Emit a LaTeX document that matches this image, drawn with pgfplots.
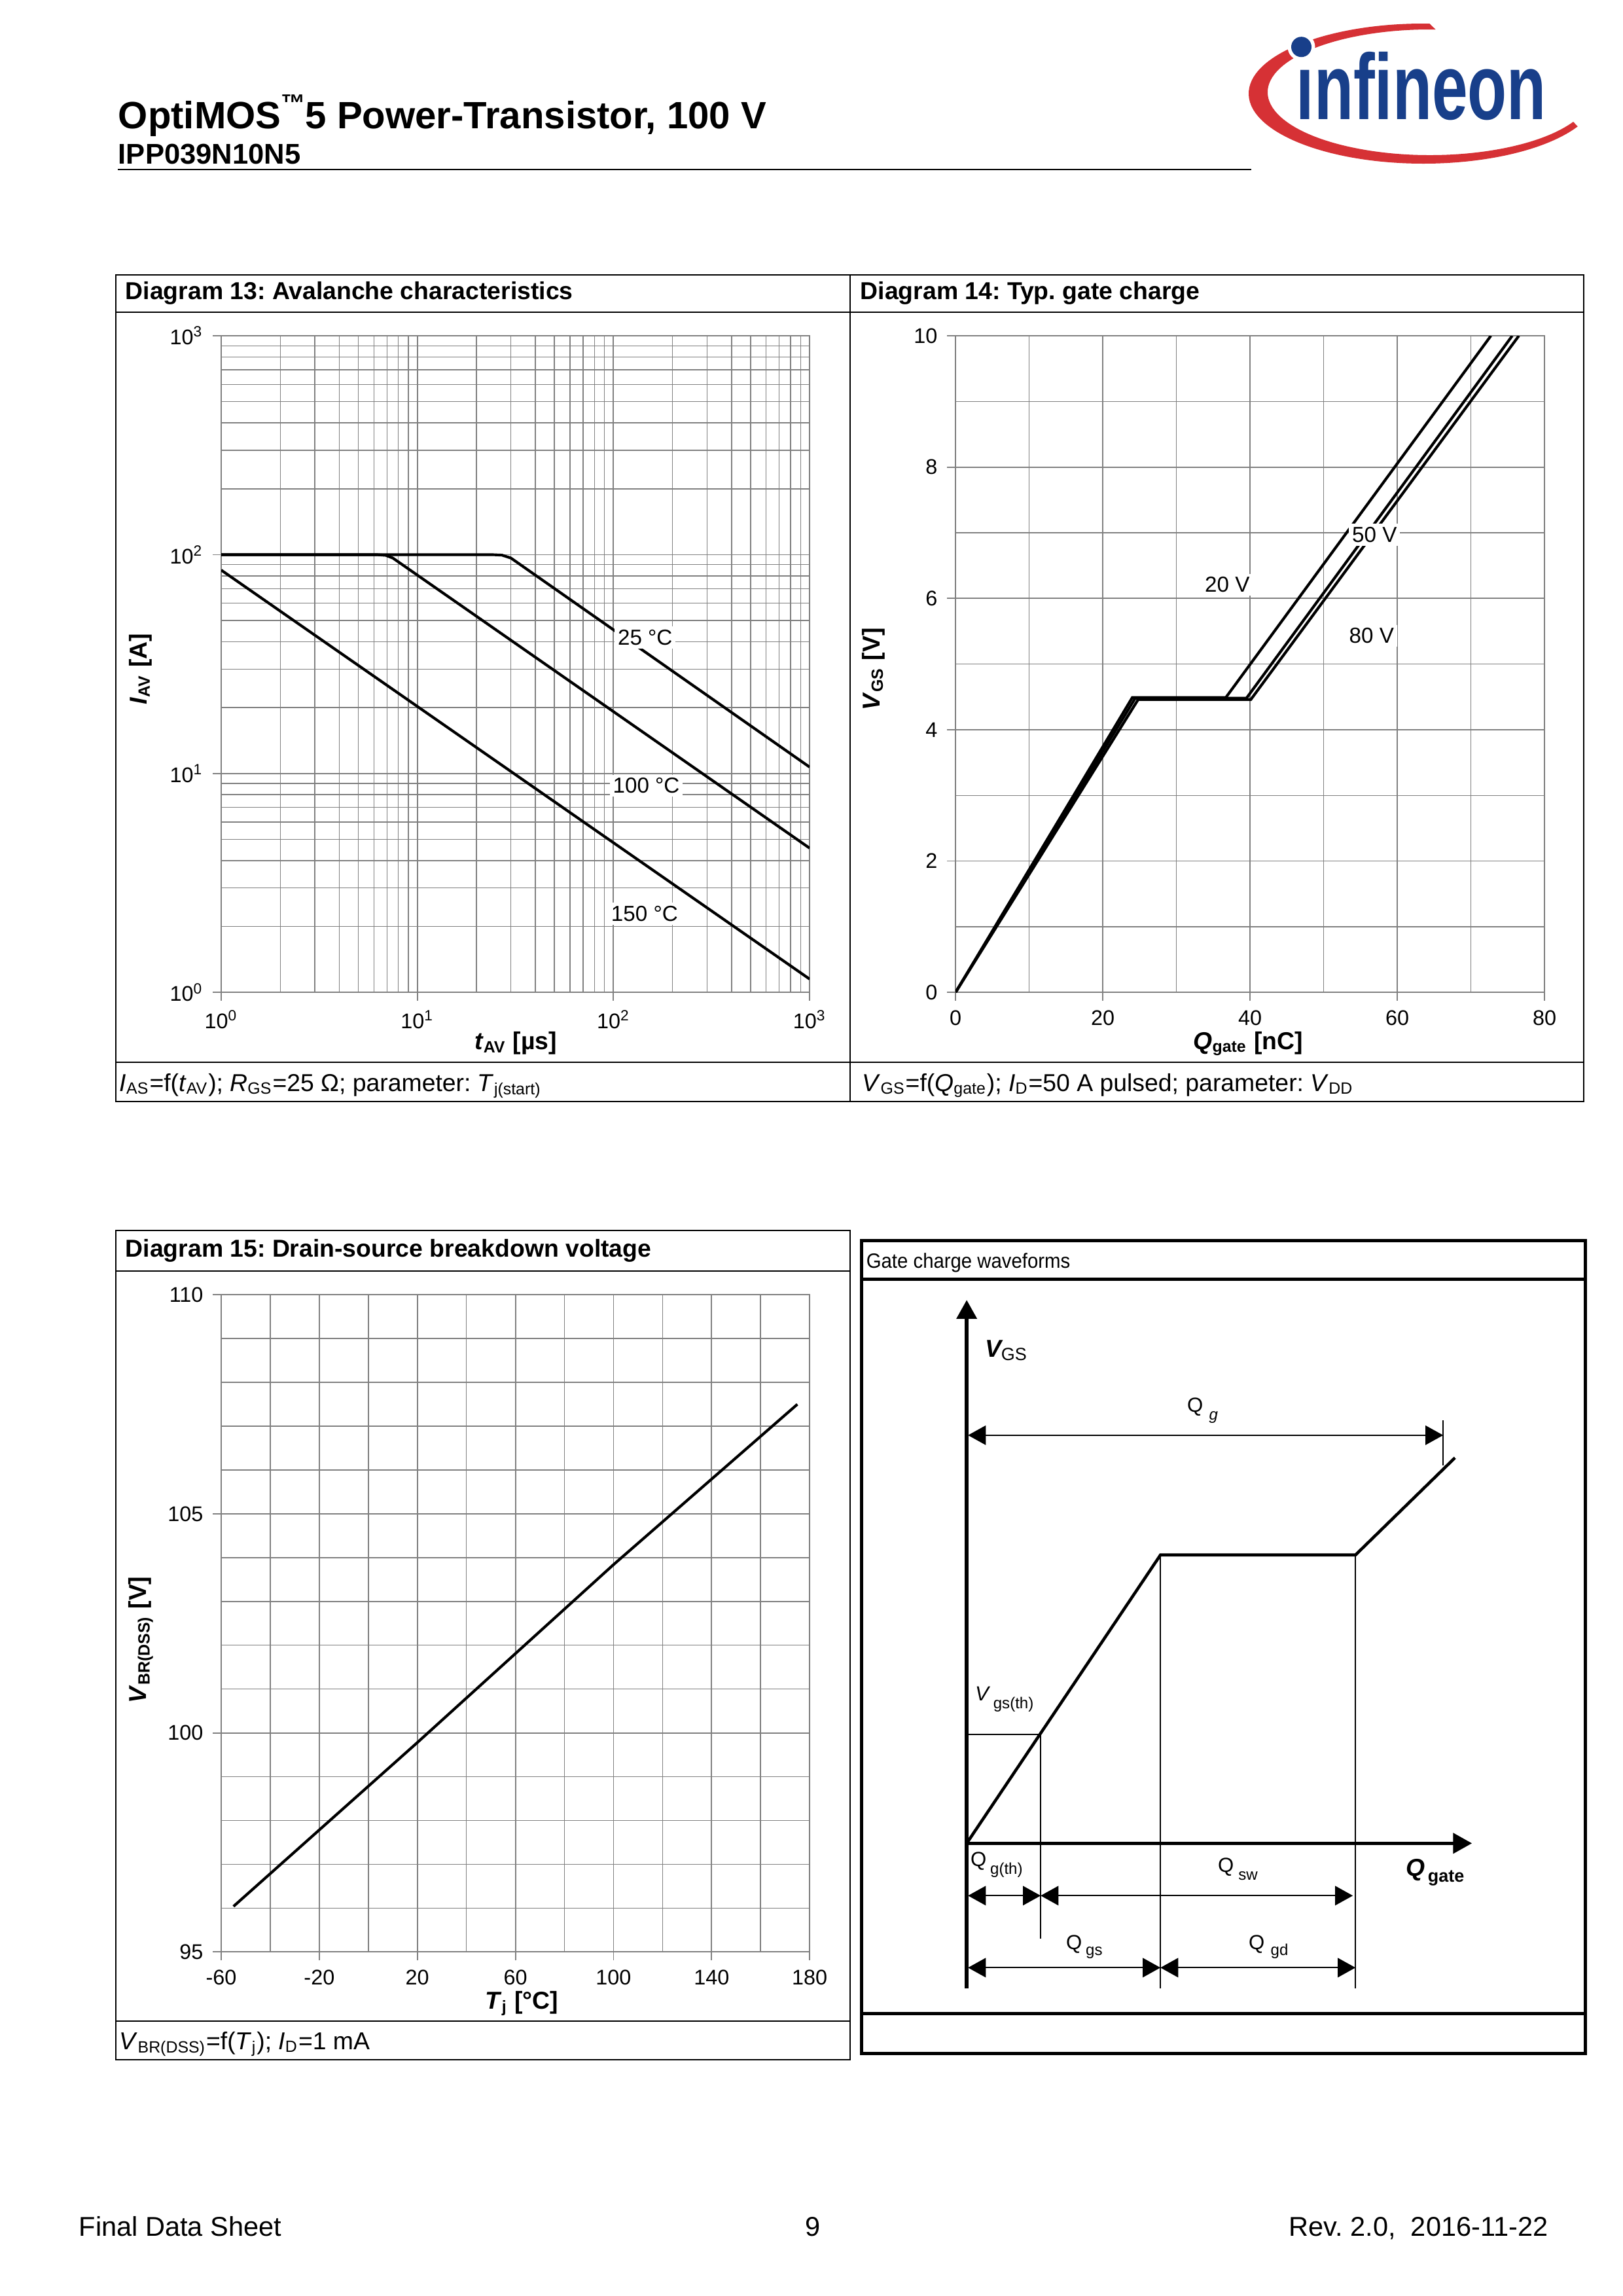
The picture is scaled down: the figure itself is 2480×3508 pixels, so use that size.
\documentclass[border=0pt]{standalone}
\usepackage{fontspec}
\setmainfont{Liberation Sans}
\usepackage{pgfplots}
\pgfplotsset{compat=1.18}
\usetikzlibrary{arrows.meta}
\definecolor{gridgray}{RGB}{128,128,128}
\definecolor{infblue}{RGB}{24,63,138}
\definecolor{infred}{RGB}{214,49,53}
\frenchspacing

\pgfplotsset{
 ds/.style={
  scale only axis, anchor=south west,
  grid=both,
  major grid style={draw=gridgray, line width=0.45pt},
  minor grid style={draw=gridgray, line width=0.35pt},
  axis line style={draw=gridgray, line width=0.45pt},
  tick style={draw=gridgray, line width=0.45pt},
  tick align=outside, major tick length=1.1mm, minor tick length=0pt,
  xtick pos=left, ytick pos=left,
  tick label style={font=\fontsize{7.8}{9}\selectfont, text=black},
  label style={font=\fontsize{9}{11}\selectfont\bfseries},
  /pgf/number format/assume math mode=true,
  cycle list={{black, line width=1pt, mark=none}},
 },
 crv/.style={black, line width=1pt, mark=none},
}

\begin{document}
\begin{tikzpicture}
\begin{scope}[x=0.0846774mm,y=-0.0846774mm]
\path[use as bounding box, fill=white] (0,0) rectangle (2480,3508);
% ---------------- header
\node[anchor=base west, inner sep=0, font=\fontsize{14}{16}\selectfont\bfseries] at (180,196)
  {OptiMOS\raisebox{2.2mm}{\fontsize{9}{9}\selectfont ™}5 Power-Transistor, 100 V};
\node[anchor=base west, inner sep=0, font=\fontsize{10.5}{12}\selectfont\bfseries] at (180,250) {IPP039N10N5};
\draw[line width=0.6pt] (180,259) -- (1912,259);
% ---------------- logo
\fill[infred] (2184.3,36.07) arc[start angle=272,end angle=28,x radius=267,y radius=107]
   -- (2403.97,186.07) arc[start angle=28,end angle=272,x radius=248,y radius=96] -- cycle;
\fill[white] (1988.5,71.7) circle[radius=21];
\fill[infblue] (1988.5,71.7) circle[radius=15.5];
\node[anchor=base west, inner sep=0, text=infblue, font=\fontsize{34.3}{36}\selectfont\bfseries] at (1980,182)
  {\scalebox{0.69}[1]{ınfineon}};
% ---------------- boxes
\begin{scope}[line width=0.65pt]
\draw (177,420) rectangle (2420,1683);
\draw (1299,420) -- (1299,1683);
\draw (177,477) -- (2420,477);
\draw (177,1623) -- (2420,1623);
\draw (177,1880) rectangle (1299,3147);
\draw (177,1942) -- (1299,1942);
\draw (177,3088) -- (1299,3088);
\end{scope}
\begin{scope}[line width=1.2pt]
\draw (1316,1895) rectangle (2422,3137);
\draw (1316,1954) -- (2422,1954);
\draw (1316,3076) -- (2422,3076);
\end{scope}
% ---------------- titles and captions
\begin{scope}[every node/.style={anchor=base west, inner sep=0}]
\node[font=\fontsize{9}{11}\selectfont\bfseries] at (191,457) {Diagram 13: Avalanche characteristics};
\node[font=\fontsize{9}{11}\selectfont\bfseries] at (1314,457) {Diagram 14: Typ. gate charge};
\node[font=\fontsize{9}{11}\selectfont\bfseries] at (191,1920) {Diagram 15: Drain-source breakdown voltage};
\node[font=\fontsize{7.6}{9}\selectfont] at (1323,1937) {\scalebox{0.93}[1]{Gate charge waveforms}};
\node[font=\fontsize{9}{11}\selectfont] at (182,1667)
  {\textit{I}\textsubscript{AS}=f(\textit{t}\textsubscript{AV}); \textit{R}\textsubscript{GS}=25 Ω; parameter: \textit{T}\textsubscript{j(start)}};
\node[font=\fontsize{9}{11}\selectfont] at (1317,1667)
  {\textit{V}\textsubscript{GS}=f(\textit{Q}\textsubscript{gate}); \textit{I}\textsubscript{D}=50 A pulsed; parameter: \textit{V}\textsubscript{DD}};
\node[font=\fontsize{9}{11}\selectfont] at (182,3131)
  {\textit{V}\textsubscript{BR(DSS)}=f(\textit{T}\textsubscript{j}); \textit{I}\textsubscript{D}=1 mA};
% footer
\node[font=\fontsize{10}{12}\selectfont] at (120,3416) {Final Data Sheet};
\node[anchor=base, font=\fontsize{10}{12}\selectfont] at (1242,3416) {9};
\node[anchor=base east, font=\fontsize{10}{12}\selectfont] at (2366,3416) {Rev. 2.0,\ \ 2016-11-22};
\end{scope}
\end{scope}

% ================= Diagram 13
\begin{axis}[ds, xmode=log, ymode=log,
  at={(28.621mm,-128.371mm)}, width=76.125mm, height=84.931mm,
  xmin=1, xmax=1000, ymin=1, ymax=1000,
  xtick={1,10,100,1000},
  xticklabels={{10\textsuperscript{0}},{10\textsuperscript{1}},{10\textsuperscript{2}},{10\textsuperscript{3}}},
  ytick={1,10,100,1000},
  yticklabels={{10\textsuperscript{0}},{10\textsuperscript{1}},{10\textsuperscript{2}},{10\textsuperscript{3}}},
  minor xtick={2,3,4,5,6,7,8,9,20,30,40,50,60,70,80,90,200,300,400,500,600,700,800,900},
  minor ytick={2,3,4,5,6,7,8,9,20,30,40,50,60,70,80,90,200,300,400,500,600,700,800,900},
  xlabel={\textit{t}\textsubscript{AV} [µs]},
  ylabel={\textit{I}\textsubscript{AV} [A]},
  xlabel style={at={(axis description cs:0.5006,-0.0778)}, anchor=center},
  ylabel style={at={(axis description cs:-0.1368,0.4925)}, anchor=center},
]
\addplot[crv] coordinates {(1,100) (24,100) (27,99.5) (30,96.5) (1000,10.7)};
\addplot[crv] coordinates {(1,100) (6.2,100) (6.9,99.3) (7.5,96.5) (1000,4.56)};
\addplot[crv] coordinates {(1,85) (1000,1.15)};
\node[fill=white, inner sep=1.2pt, font=\fontsize{8}{9}\selectfont] at (axis cs:145,41.8) {25 °C};
\node[fill=white, inner sep=1.2pt, font=\fontsize{8}{9}\selectfont] at (axis cs:147,8.8) {100 °C};
\node[fill=white, inner sep=1.2pt, font=\fontsize{8}{9}\selectfont] at (axis cs:144,2.29) {150 °C};
\end{axis}

% ================= Diagram 14
\begin{axis}[ds,
  at={(123.629mm,-128.371mm)}, width=76.21mm, height=84.931mm,
  xmin=0, xmax=80, ymin=0, ymax=10,
  xtick={0,20,40,60,80}, minor xtick={10,30,50,70},
  ytick={0,2,4,6,8,10}, minor ytick={1,3,5,7,9},
  xlabel={\textit{Q}\textsubscript{gate} [nC]},
  ylabel={\textit{V}\textsubscript{GS} [V]},
  xlabel style={at={(axis description cs:0.4967,-0.0778)}, anchor=center},
  ylabel style={at={(axis description cs:-0.139,0.4925)}, anchor=center},
]
\addplot[crv] coordinates {(0,0) (24.0,4.49) (36.7,4.49) (72.7,10)};
\addplot[crv] coordinates {(0,0) (24.4,4.48) (39.5,4.48) (75.6,10)};
\addplot[crv] coordinates {(0,0) (24.8,4.46) (40.1,4.46) (76.5,10)};
\node[fill=white, inner sep=1.2pt, font=\fontsize{8}{9}\selectfont] at (axis cs:36.9,6.21) {20 V};
\node[fill=white, inner sep=1.2pt, font=\fontsize{8}{9}\selectfont] at (axis cs:56.9,6.97) {50 V};
\node[fill=white, inner sep=1.2pt, font=\fontsize{8}{9}\selectfont] at (axis cs:56.5,5.43) {80 V};
\end{axis}

% ================= Diagram 15
\begin{axis}[ds,
  at={(28.621mm,-252.508mm)}, width=76.125mm, height=85.016mm,
  xmin=-60, xmax=180, ymin=95, ymax=110,
  xtick={-60,-20,20,60,100,140,180}, minor xtick={-40,0,40,80,120,160},
  ytick={95,100,105,110}, minor ytick={96,97,98,99,101,102,103,104,106,107,108,109},
  xlabel={\textit{T}\textsubscript{j} [°C]},
  ylabel={\textit{V}\textsubscript{BR(DSS)} [V]},
  xlabel style={at={(axis description cs:0.5106,-0.0787)}, anchor=center},
  ylabel style={at={(axis description cs:-0.1368,0.475)}, anchor=center},
]
\addplot[crv] coordinates {(-55,96.04) (20,99.78) (100,103.84) (175,107.5)};
\end{axis}

% ================= Gate charge waveforms (schematic)
\begin{axis}[at={(111.4355mm,-260.467mm)}, anchor=south west, scale only axis,
  width=93.653mm, height=95.008mm,
  xmin=1316, xmax=2422, ymin=1954, ymax=3076, y dir=reverse,
  hide axis, clip=false]
% axes
\addplot[black, mark=none, line width=1.3pt, -{Triangle[length=2.45mm,width=2.6mm]}] coordinates {(1477,3038) (1477,1986)};
\addplot[black, mark=none, line width=1.3pt, -{Triangle[length=2.45mm,width=2.6mm]}] coordinates {(1477,2816) (2249,2816)};
% waveform
\addplot[black, mark=none, line width=1.1pt] coordinates {(1477,2816) (1773,2375.5) (2071,2375.5) (2223,2227)};
% thin construction lines
\addplot[black, mark=none, line width=0.45pt] coordinates {(1477,2650) (1590,2650) (1590,2962)};
\addplot[black, mark=none, line width=0.45pt] coordinates {(1773,2375.5) (1773,3038)};
\addplot[black, mark=none, line width=0.45pt] coordinates {(2071,2375.5) (2071,3038)};
\addplot[black, mark=none, line width=0.45pt] coordinates {(2205,2170) (2205,2239)};
% dimension arrows
\addplot[black, mark=none, line width=0.55pt, {Triangle[length=2.3mm,width=2.5mm]}-{Triangle[length=2.3mm,width=2.5mm]}] coordinates {(1479,2192.6) (2205,2192.6)};
\addplot[black, mark=none, line width=0.55pt, {Triangle[length=2.3mm,width=2.5mm]}-{Triangle[length=2.3mm,width=2.5mm]}] coordinates {(1479,2896) (1590,2896)};
\addplot[black, mark=none, line width=0.55pt, {Triangle[length=2.3mm,width=2.5mm]}-{Triangle[length=2.3mm,width=2.5mm]}] coordinates {(1590,2896) (2067,2896)};
\addplot[black, mark=none, line width=0.55pt, {Triangle[length=2.3mm,width=2.5mm]}-{Triangle[length=2.3mm,width=2.5mm]}] coordinates {(1479,3006) (1773,3006)};
\addplot[black, mark=none, line width=0.55pt, {Triangle[length=2.3mm,width=2.5mm]}-{Triangle[length=2.3mm,width=2.5mm]}] coordinates {(1773,3006) (2071,3006)};
% labels
\node[anchor=base west, inner sep=0] at (axis cs:1504,2073)
  {{\fontsize{9}{10}\selectfont\bfseries\itshape V}{\fontsize{6.5}{7}\selectfont\raisebox{-0.42mm}{GS}}};
\node[anchor=base west, inner sep=0] at (axis cs:1813,2157)
  {{\fontsize{7.5}{9}\selectfont Q}\hspace{0.8mm}{\fontsize{5.8}{7}\selectfont\itshape\raisebox{-1.0mm}{g}}};
\node[anchor=base west, inner sep=0] at (axis cs:1489,2598)
  {{\fontsize{7.5}{9}\selectfont\itshape V}\hspace{0.6mm}{\fontsize{5.8}{7}\selectfont\raisebox{-1.0mm}{gs(th)}}};
\node[anchor=base west, inner sep=0] at (axis cs:1482,2851)
  {{\fontsize{7.5}{9}\selectfont Q}\hspace{0.5mm}{\fontsize{5.8}{7}\selectfont\raisebox{-1.0mm}{g(th)}}};
\node[anchor=base west, inner sep=0] at (axis cs:1860,2860)
  {{\fontsize{7.5}{9}\selectfont Q}\hspace{0.6mm}{\fontsize{5.8}{7}\selectfont\raisebox{-1.0mm}{sw}}};
\node[anchor=base west, inner sep=0] at (axis cs:2147,2866)
  {{\fontsize{9}{10}\selectfont\bfseries\itshape Q}\hspace{0.4mm}{\fontsize{6.5}{7}\selectfont\bfseries\raisebox{-0.8mm}{gate}}};
\node[anchor=base west, inner sep=0] at (axis cs:1628,2978)
  {{\fontsize{7.5}{9}\selectfont Q}\hspace{0.5mm}{\fontsize{5.8}{7}\selectfont\raisebox{-0.8mm}{gs}}};
\node[anchor=base west, inner sep=0] at (axis cs:1907,2978)
  {{\fontsize{7.5}{9}\selectfont Q}\hspace{0.8mm}{\fontsize{5.8}{7}\selectfont\raisebox{-0.8mm}{gd}}};
\end{axis}
\end{tikzpicture}
\end{document}
